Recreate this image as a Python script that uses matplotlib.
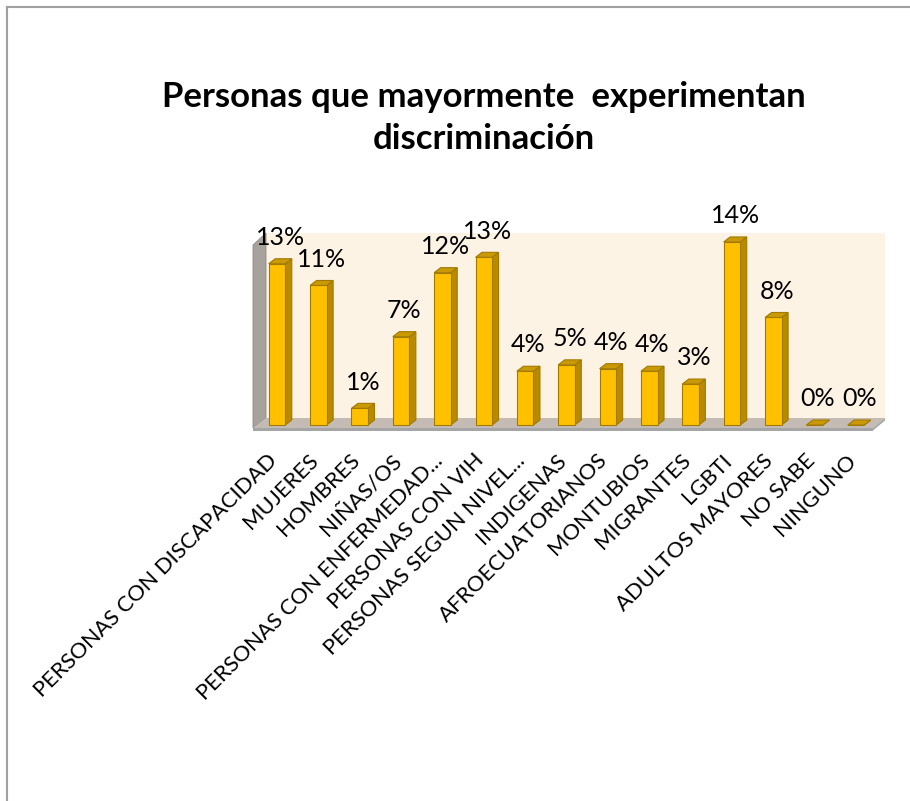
import matplotlib
matplotlib.use("Agg")
import matplotlib.pyplot as plt
from matplotlib.patches import Polygon
from matplotlib.lines import Line2D
from matplotlib.transforms import ScaledTranslation

categories = ["PERSONAS CON DISCAPACIDAD", "MUJERES", "HOMBRES", "NIÑAS/OS",
              "PERSONAS CON ENFERMEDAD...", "PERSONAS CON VIH", "PERSONAS SEGUN NIVEL...",
              "INDIGENAS", "AFROECUATORIANOS", "MONTUBIOS", "MIGRANTES", "LGBTI",
              "ADULTOS MAYORES", "NO SABE", "NINGUNO"]
values = [12.6, 10.9, 1.3, 6.9, 11.9, 13.1, 4.2, 4.7, 4.4, 4.2, 3.2, 14.3, 8.4, 0.0, 0.0]
title = "Personas que mayormente  experimentan\ndiscriminación"

W, H = 910, 801
fig = plt.figure(figsize=(W / 100, H / 100), dpi=100)
FONT = "Lato"

# axes placement in pixel terms
ax_l, ax_r, ax_t, ax_b = 245, 895, 225, 435
ax = fig.add_axes([ax_l / W, 1 - ax_b / H, (ax_r - ax_l) / W, (ax_b - ax_t) / H])
px_x = 41.36   # pixels per category
px_y = 12.8    # pixels per percent
x0_px, y0_px = 277, 425
ax.set_xlim((ax_l - x0_px) / px_x, (ax_r - x0_px) / px_x)
ax.set_ylim((y0_px - ax_b) / px_y, (y0_px - ax_t) / px_y)

def dx(p):
    return p / px_x

def dy(p):
    return p / px_y

# walls
xl, xr = (266 - x0_px) / px_x, (885 - x0_px) / px_x
ax.add_patch(Polygon([(xl, dy(7)), (xr, dy(7)), (xr, dy(192)), (xl, dy(192))],
                     closed=True, facecolor="#FDF3E5", edgecolor="none", zorder=1))
xf = (253 - x0_px) / px_x
ax.add_patch(Polygon([(xf, dy(-3)), (xl, dy(7)), (xl, dy(192)), (xf, dy(180))],
                     closed=True, facecolor="#A7A29C", edgecolor="#8F8A85", lw=0.6, zorder=2))
xfr = (873 - x0_px) / px_x
ax.add_patch(Polygon([(xf, dy(-3)), (xl, dy(7)), (xr, dy(7)), (xfr, dy(-3))],
                     closed=True, facecolor="#C4BCB4", edgecolor="none", zorder=2))
ax.add_patch(Polygon([(xf, dy(-3)), (xfr, dy(-3)), (xfr, dy(-5.5)), (xf, dy(-5.5))],
                     closed=True, facecolor="#A5A5A5", edgecolor="none", zorder=2))
ax.add_patch(Polygon([(xfr, dy(-3)), (xr, dy(7)), (xr, dy(4.5)), (xfr, dy(-5.5))],
                     closed=True, facecolor="#A5A5A5", edgecolor="none", zorder=2))

bw = 0.40
ddx, ddy = dx(6.5), dy(5)
front = "#FFC000"
side = "#B88A00"
topc = "#C99A06"
edge = "#A27A00"
bars = ax.bar(range(len(values)), values, width=bw, color=front, edgecolor=edge,
              linewidth=0.8, zorder=4)
for i, v in enumerate(values):
    l, r = i - bw / 2, i + bw / 2
    ax.add_patch(Polygon([(r, 0), (r + ddx, ddy), (r + ddx, v + ddy), (r, v)],
                         closed=True, facecolor=side, edgecolor=edge, lw=0.8, zorder=3))
    ax.add_patch(Polygon([(l, v), (l + ddx, v + ddy), (r + ddx, v + ddy), (r, v)],
                         closed=True, facecolor=topc, edgecolor=edge, lw=0.8, zorder=5))
    ax.annotate(f"{round(v)}%", xy=(i + ddx / 2, v), xytext=(0, 13.5),
                textcoords="offset points", ha="center", va="baseline",
                fontsize=18, family=FONT, color="black", zorder=6)

ax.set_xticks(range(len(categories)))
ax.set_xticklabels(categories, rotation=45, ha="right", va="top",
                   fontsize=15.8, family=FONT)
ax.tick_params(axis="x", length=0, pad=11)
shift = ScaledTranslation(4 / 100, 0, fig.dpi_scale_trans)
for lab in ax.get_xticklabels():
    lab.set_transform(lab.get_transform() + shift)
ax.set_yticks([])
for s in ax.spines.values():
    s.set_visible(False)
ax.patch.set_visible(False)

fig.text(484 / W, 1 - 118 / H, title, ha="center", va="center", fontsize=25,
         fontweight="bold", family=FONT, linespacing=1.35)

# outer frame (left and top edges)
fig.add_artist(Line2D([6.5 / W, 6.5 / W], [0, 1 - 6.5 / H], transform=fig.transFigure,
                      color="#A0A0A0", lw=1.5))
fig.add_artist(Line2D([6.5 / W, 1], [1 - 6.5 / H, 1 - 6.5 / H], transform=fig.transFigure,
                      color="#A0A0A0", lw=1.5))

fig.savefig("out.png", dpi=100, facecolor="white")
